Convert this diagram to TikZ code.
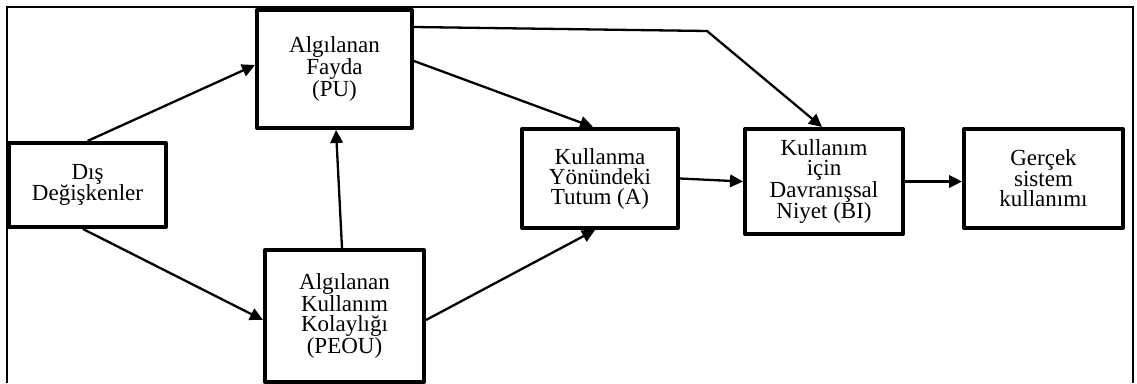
\documentclass[tikz,border=0pt]{standalone}
\usepackage{fontspec}
\setmainfont{Liberation Serif}
\usetikzlibrary{arrows.meta}
\begin{document}
\begin{tikzpicture}[x=1pt,y=-1pt,
  block/.style={draw, line width=4pt, line join=round, align=center,
    inner sep=0pt, font=\fontsize{23}{20}\selectfont},
  link/.style={line width=2.3pt, -{Triangle[length=13pt,width=12.5pt]}}]
\useasboundingbox (0,0) rectangle (1137,383);
% outer frame
\draw[line width=1.4pt] (7,383) -- (7,7) -- (1133,7) -- (1133,383);
% boxes
\node[block, minimum width=157pt, minimum height=84pt]  (dis)  at (87.5,185)  {Dış\\Değişkenler};
\node[block, minimum width=155pt, minimum height=118pt] (pu)   at (334.5,69)  {Algılanan\\Fayda\\(PU)};
\node[block, minimum width=159pt, minimum height=132pt] (peou) at (344.5,316) {Algılanan\\Kullanım\\Kolaylığı\\(PEOU)};
\node[block, minimum width=156pt, minimum height=99pt]  (att)  at (600,178.5) {Kullanma\\Yönündeki\\Tutum (A)};
\node[block, minimum width=158pt, minimum height=105pt] (bi)   at (824,181.5) {Kullanım\\için\\Davranışsal\\Niyet (BI)};
\node[block, minimum width=159pt, minimum height=99pt]  (use)  at (1043.5,178.5) {Gerçek\\sistem\\kullanımı};
\coordinate (bend) at (707,31);
% connectors
\draw[link] (dis.north) -- ([yshift=4pt]pu.west);
\draw[link] ([xshift=-4.5pt]dis.south) -- ([yshift=-4pt]peou.west);
\draw[link] ([xshift=-2.5pt]peou.north) -- ([xshift=1.5pt]pu.south);
\draw[link] ([yshift=8pt]pu.east) -- ([xshift=-7pt]att.north);
\draw[link] ([yshift=-4pt]peou.east) -- ([xshift=-5pt]att.south);
\draw[link] ([yshift=42pt]pu.east) -- (bend) -- ([xshift=-2pt]bi.north);
\draw[link] (att.east) -- (bi.west);
\draw[link] (bi.east) -- (bi.east -| use.west);
\end{tikzpicture}
\end{document}
